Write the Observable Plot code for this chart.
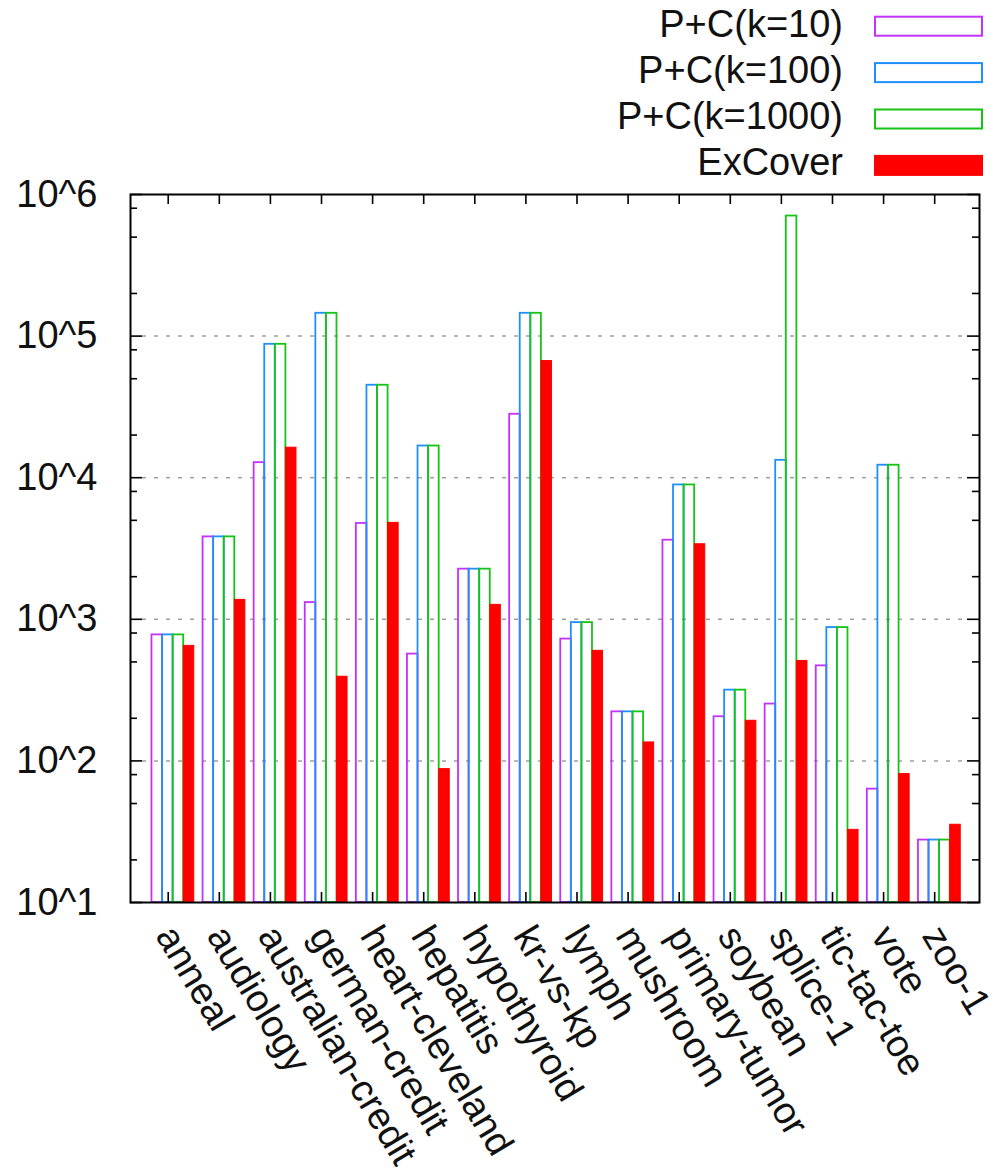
<!DOCTYPE html>
<html><head><meta charset="utf-8">
<script src="https://cdn.jsdelivr.net/npm/d3@7"></script>
<script src="https://cdn.jsdelivr.net/npm/@observablehq/plot@0.6"></script>
<style>
body{margin:0;background:#fff;}
#wrap{position:relative;width:995px;height:1174px;}
#legend{position:absolute;left:0;top:0;line-height:0;pointer-events:none;}
#chart{position:absolute;left:0;top:0;line-height:0;}
</style>
</head><body>
<div id="wrap"><div id="chart"></div><div id="legend"></div></div>
<script>
// ---- data ----
const categories = ["anneal","audiology","australian-credit","german-credit","heart-cleveland","hepatitis","hypothyroid","kr-vs-kp","lymph","mushroom","primary-tumor","soybean","splice-1","tic-tac-toe","vote","zoo-1"];
const seriesNames = ["P+C(k=10)","P+C(k=100)","P+C(k=1000)","ExCover"];
const pc10   = [776, 3820, 12770, 1312, 4750, 568, 2260, 28050, 725, 222, 3620, 205, 252, 469, 63.2, 27.6];
const pc100  = [776, 3820, 87500, 144900, 44970, 16740, 2260, 144900, 948, 222, 8890, 316, 13270, 874, 12250, 27.6];
const pc1000 = [776, 3820, 87500, 144900, 44970, 16740, 2260, 144900, 948, 222, 8890, 316, 704600, 874, 12250, 27.6];
const exCover = [649, 1371, 16290, 393, 4800, 87.5, 1265, 66650, 599, 135, 3388, 192, 508, 32.6, 80.7, 35.4];
const yTickValues = [1e1, 1e2, 1e3, 1e4, 1e5, 1e6];
const yTickLabels = ["10^1","10^2","10^3","10^4","10^5","10^6"];
const colors = ["#c531ff", "#1e8fff", "#16c416", "#ff0000"];

const seriesValues = [pc10, pc100, pc1000, exCover];
const rows = categories.flatMap((c, i) => seriesNames.map((s, j) => ({cat: c, i, j, series: s, value: seriesValues[j][i]})));
const minorTicks = [];
for (let k = 1; k <= 5; k++) for (const m of [2, 5, 8]) minorTicks.push(m * Math.pow(10, k));

const FONT = "'Liberation Sans', Arial, Helvetica, sans-serif";
const FS = 38;

// ---- layout ----
const W = 995, H = 1174;
const mL = 130, mR = 16, mT = 194, mB = 272;
const frameW = W - mL - mR, frameH = H - mT - mB;
const xDomain = [-0.738, 15.877];
const clusterOffset = -0.318, barW = 0.207;

// ---- legend (top right, above the plot frame) ----
const leg = d3.select("#legend").append("svg").attr("width", W).attr("height", 190)
  .style("display", "block").style("font-family", FONT).style("overflow", "visible");
seriesNames.forEach((s, j) => {
  leg.append("text").attr("x", 843).attr("y", 36.7 + 46.1 * j).attr("text-anchor", "end")
    .attr("font-size", FS).attr("fill", "#111").text(s);
  leg.append("rect").attr("x", 875).attr("y", 16.7 + 46.4 * j).attr("width", 107).attr("height", 19)
    .attr("fill", j === 3 ? colors[j] : "none").attr("stroke", colors[j]).attr("stroke-width", 2);
});

// ---- chart ----
const chart = Plot.plot({
  width: W, height: H,
  marginLeft: mL, marginRight: mR, marginTop: mT, marginBottom: mB,
  style: {fontFamily: FONT, background: "transparent", color: "#000", overflow: "visible"},
  x: {type: "linear", domain: xDomain, axis: null},
  y: {type: "log", domain: [10, 1e6], axis: null},
  color: {domain: seriesNames, range: colors},
  marks: [
    Plot.ruleY(yTickValues.slice(1, 5), {y: d => d, stroke: "#a0a0a0", strokeWidth: 1.5, strokeDasharray: "4,8", insetLeft: 12, insetRight: 12}),
    Plot.rectY(rows.filter(d => d.j < 3), {
      x1: d => d.i + clusterOffset + d.j * barW,
      x2: d => d.i + clusterOffset + (d.j + 1) * barW,
      y1: 10, y2: "value", fill: "none", stroke: "series", strokeWidth: 1.8
    }),
    Plot.rectY(rows.filter(d => d.j === 3), {
      x1: d => d.i + clusterOffset + d.j * barW,
      x2: d => d.i + clusterOffset + (d.j + 1) * barW,
      y1: 10, y2: "value", fill: "series", stroke: "series", strokeWidth: 1
    }),
    // y ticks (left & right, inward)
    Plot.tickY(yTickValues, {y: d => d, stroke: "#000", strokeWidth: 1.6, insetRight: frameW - 12}),
    Plot.tickY(yTickValues, {y: d => d, stroke: "#000", strokeWidth: 1.6, insetLeft: frameW - 12}),
    Plot.tickY(minorTicks, {y: d => d, stroke: "#000", strokeWidth: 1.6, insetRight: frameW - 7}),
    Plot.tickY(minorTicks, {y: d => d, stroke: "#000", strokeWidth: 1.6, insetLeft: frameW - 7}),
    // x ticks (bottom & top, inward)
    Plot.tickX(categories, {x: (d, i) => i, stroke: "#000", strokeWidth: 1.6, insetTop: frameH - 10}),
    Plot.tickX(categories, {x: (d, i) => i, stroke: "#000", strokeWidth: 1.6, insetBottom: frameH - 10}),
    Plot.frame({stroke: "#000", strokeWidth: 2}),
    // y tick labels
    Plot.text(yTickValues, {x: xDomain[0], y: d => d, text: (d, i) => yTickLabels[i], textAnchor: "end", lineAnchor: "middle", dx: -33, fontSize: FS, fill: "#111"}),
    // x tick labels
    Plot.text(categories, {x: (d, i) => i, frameAnchor: "bottom", text: d => d, rotate: 59, textAnchor: "start", lineAnchor: "middle", dx: -3, dy: 27, fontSize: FS, fill: "#111"})
  ]
});
document.getElementById("chart").appendChild(chart);
</script>
</body></html>
